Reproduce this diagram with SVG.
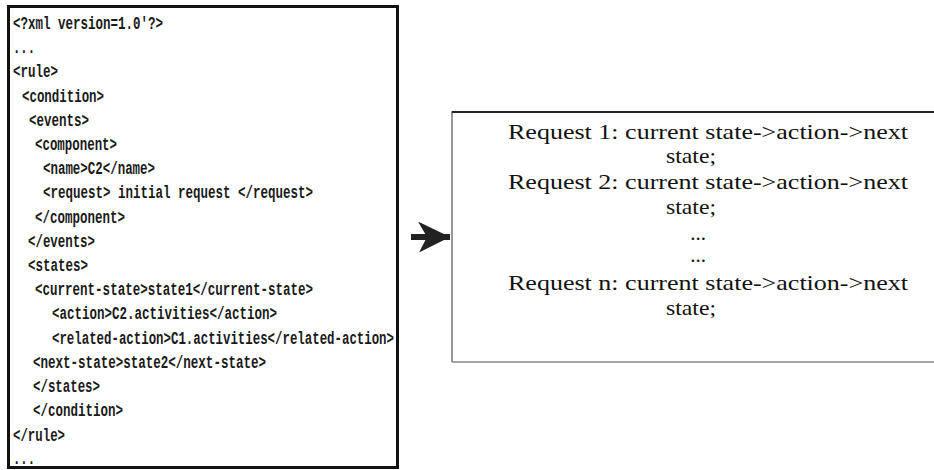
<svg xmlns="http://www.w3.org/2000/svg" width="934" height="470" viewBox="0 0 934 470">
  <style>
    .code { font-family: "Liberation Mono", "DejaVu Sans Mono", monospace; font-size: 18px; font-weight: bold; fill: #1a1a1a; }
    .rule { font-family: "Liberation Serif", "Times New Roman", serif; font-size: 21px; fill: #111; text-anchor: middle; }
  </style>
  <defs>
    <marker id="arrowhead" viewBox="0 0 32 31" refX="32" refY="15.5" markerWidth="32" markerHeight="31" markerUnits="userSpaceOnUse" orient="auto">
      <path d="M0,0 L32,15.5 L1,31 L9,15.5 Z" fill="#222"/>
    </marker>
  </defs>
  <rect width="934" height="470" fill="#fff"/>

  <!-- XML rule document -->
  <g id="xml-rule">
    <rect x="8.5" y="6.5" width="389" height="461" fill="#fff" stroke="#111" stroke-width="3"/>
    <text class="code" x="13" y="29" textLength="150" lengthAdjust="spacingAndGlyphs">&lt;?xml version=1.0'?&gt;</text>
    <text class="code" x="13" y="53" textLength="22" lengthAdjust="spacingAndGlyphs">...</text>
    <text class="code" x="13" y="77" textLength="45" lengthAdjust="spacingAndGlyphs">&lt;rule&gt;</text>
    <text class="code" x="22" y="102" textLength="82" lengthAdjust="spacingAndGlyphs">&lt;condition&gt;</text>
    <text class="code" x="29" y="126" textLength="60" lengthAdjust="spacingAndGlyphs">&lt;events&gt;</text>
    <text class="code" x="35" y="150" textLength="82" lengthAdjust="spacingAndGlyphs">&lt;component&gt;</text>
    <text class="code" x="43" y="174" textLength="112" lengthAdjust="spacingAndGlyphs">&lt;name&gt;C2&lt;/name&gt;</text>
    <text class="code" x="43" y="198" textLength="270" lengthAdjust="spacingAndGlyphs">&lt;request&gt; initial request &lt;/request&gt;</text>
    <text class="code" x="35" y="223" textLength="90" lengthAdjust="spacingAndGlyphs">&lt;/component&gt;</text>
    <text class="code" x="28" y="247" textLength="67" lengthAdjust="spacingAndGlyphs">&lt;/events&gt;</text>
    <text class="code" x="28" y="271" textLength="60" lengthAdjust="spacingAndGlyphs">&lt;states&gt;</text>
    <text class="code" x="35" y="295" textLength="278" lengthAdjust="spacingAndGlyphs">&lt;current-state&gt;state1&lt;/current-state&gt;</text>
    <text class="code" x="52" y="319" textLength="225" lengthAdjust="spacingAndGlyphs">&lt;action&gt;C2.activities&lt;/action&gt;</text>
    <text class="code" x="52" y="344" textLength="342" lengthAdjust="spacingAndGlyphs">&lt;related-action&gt;C1.activities&lt;/related-action&gt;</text>
    <text class="code" x="33" y="368" textLength="233" lengthAdjust="spacingAndGlyphs">&lt;next-state&gt;state2&lt;/next-state&gt;</text>
    <text class="code" x="33" y="392" textLength="67" lengthAdjust="spacingAndGlyphs">&lt;/states&gt;</text>
    <text class="code" x="33" y="416" textLength="90" lengthAdjust="spacingAndGlyphs">&lt;/condition&gt;</text>
    <text class="code" x="13" y="441" textLength="52" lengthAdjust="spacingAndGlyphs">&lt;/rule&gt;</text>
    <text class="code" x="13" y="464" textLength="22" lengthAdjust="spacingAndGlyphs">...</text>
  </g>

  <!-- derived state transitions -->
  <g id="transitions">
    <path d="M452,362 L452,112 L940,112" fill="none" stroke="#777" stroke-width="1.5"/>
    <path d="M452,112 L940,112" fill="none" stroke="#222" stroke-width="2"/>
    <path d="M452,362 L940,362" fill="none" stroke="#888" stroke-width="1.5"/>
    <text class="rule" x="708" y="139" textLength="400" lengthAdjust="spacingAndGlyphs">Request 1: current state-&gt;action-&gt;next</text>
    <text class="rule" x="691" y="163" textLength="50" lengthAdjust="spacingAndGlyphs">state;</text>
    <text class="rule" x="708" y="189" textLength="400" lengthAdjust="spacingAndGlyphs">Request 2: current state-&gt;action-&gt;next</text>
    <text class="rule" x="691" y="214" textLength="50" lengthAdjust="spacingAndGlyphs">state;</text>
    <text class="rule" x="698" y="240">...</text>
    <text class="rule" x="698" y="262">...</text>
    <text class="rule" x="708" y="290" textLength="400" lengthAdjust="spacingAndGlyphs">Request n: current state-&gt;action-&gt;next</text>
    <text class="rule" x="691" y="315" textLength="50" lengthAdjust="spacingAndGlyphs">state;</text>
  </g>

  <!-- conversion arrow -->
  <g id="connectors">
    <line x1="411" y1="237" x2="450" y2="237" stroke="#222" stroke-width="6" marker-end="url(#arrowhead)"/>
  </g>
</svg>
